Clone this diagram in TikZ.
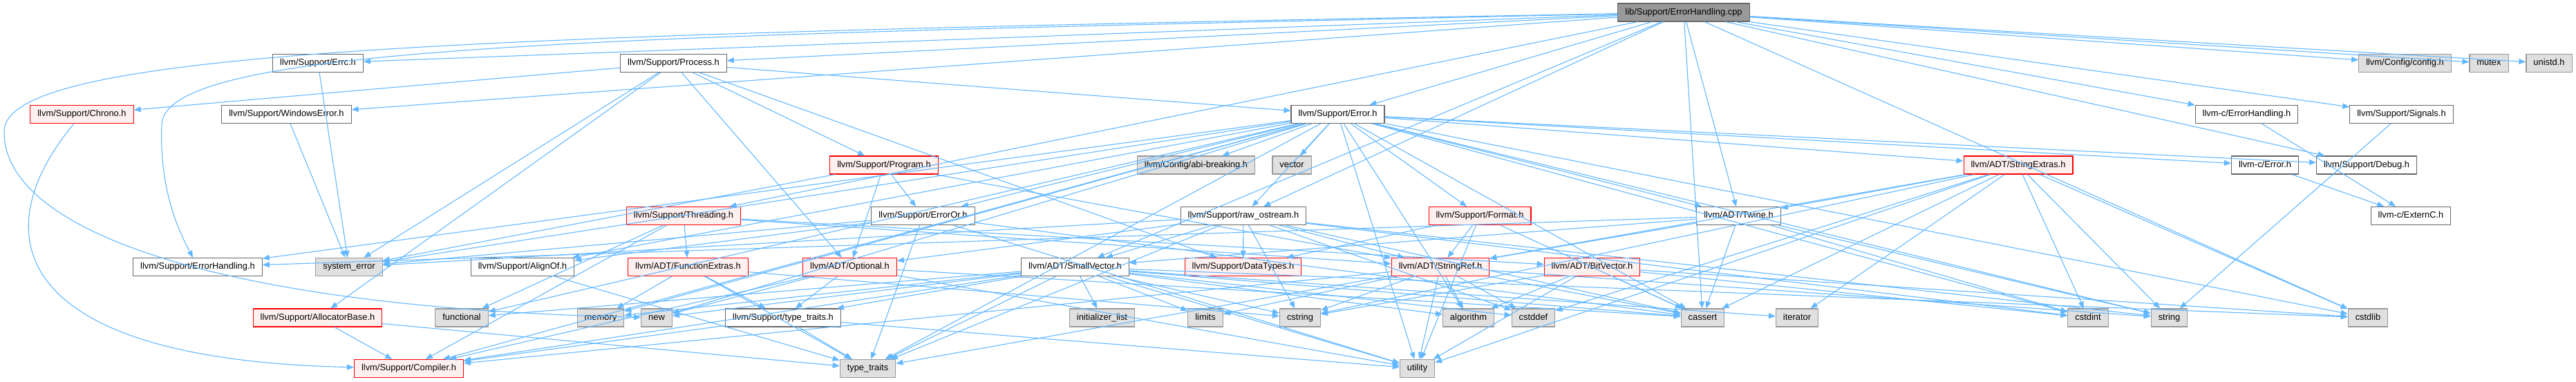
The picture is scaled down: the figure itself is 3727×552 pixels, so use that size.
\documentclass[tikz,border=0pt]{standalone}
\usepackage{fontspec}
\setmainfont{Liberation Sans}
\usetikzlibrary{arrows.meta}

\definecolor{edgeblue}{HTML}{63B8FF}
\definecolor{redline}{HTML}{FF0000}
\definecolor{redfill}{HTML}{FFF0F0}
\definecolor{sysfill}{HTML}{E0E0E0}
\definecolor{sysline}{HTML}{999999}
\definecolor{fileline}{HTML}{666666}

\begin{document}
\begin{tikzpicture}[x=1pt, y=-1pt, line join=round, >={Triangle[length=10pt,width=8pt]},
  file/.style={draw=fileline, fill=white, line width=1.1pt, minimum height=26pt,
    inner xsep=10.5pt, inner ysep=0pt, text height=9.3pt, text depth=2.6pt,
    font=\fontsize{12.9}{15}\selectfont},
  redfile/.style={file, draw=redline, fill=redfill},
  sysfile/.style={file, draw=sysline, fill=sysfill},
  rootfile/.style={file, fill=sysline},
  edge/.style={->, draw=edgeblue, line width=1.1pt}]
  \useasboundingbox (0,0) rectangle (3727,552);

  % row 0
  \node[rootfile] (root) at (2436,18) {lib/Support/ErrorHandling.cpp};
  % row 1
  \node[file] (errc) at (460,91.5) {llvm/Support/Errc.h};
  \node[file] (process) at (974.5,91.5) {llvm/Support/Process.h};
  \node[sysfile] (config) at (3479.5,91.5) {llvm/Config/config.h};
  \node[sysfile] (mutex) at (3601,91.5) {mutex};
  \node[sysfile] (unistd) at (3688,91.5) {unistd.h};
  % row 2
  \node[redfile] (chrono) at (118.5,165.5) {llvm/Support/Chrono.h};
  \node[file] (winerr) at (414.5,165.5) {llvm/Support/WindowsError.h};
  \node[file] (error) at (1935.5,165.5) {llvm/Support/Error.h};
  \node[file] (cerrh) at (3250.5,165.5) {llvm-c/ErrorHandling.h};
  \node[file] (signals) at (3474.5,165.5) {llvm/Support/Signals.h};
  % row 3
  \node[redfile] (program) at (1279,239) {llvm/Support/Program.h};
  \node[sysfile] (abi) at (1730.5,239) {llvm/Config/abi-breaking.h};
  \node[sysfile] (vector) at (1869,239) {vector};
  \node[redfile] (strext) at (2920,239) {llvm/ADT/StringExtras.h};
  \node[file] (cerror) at (3277,239) {llvm-c/Error.h};
  \node[file] (debug) at (3424,239) {llvm/Support/Debug.h};
  % row 4
  \node[redfile] (threading) at (989,312.5) {llvm/Support/Threading.h};
  \node[file] (erroror) at (1335.5,312.5) {llvm/Support/ErrorOr.h};
  \node[file] (rawos) at (1799,312.5) {llvm/Support/raw\_ostream.h};
  \node[redfile] (format) at (2141,312.5) {llvm/Support/Format.h};
  \node[file] (twine) at (2515.5,312.5) {llvm/ADT/Twine.h};
  \node[file] (externc) at (3488,312.5) {llvm-c/ExternC.h};
  % row 5
  \node[file] (errh) at (286,386.5) {llvm/Support/ErrorHandling.h};
  \node[sysfile] (syserr) at (505,386.5) {system\_error};
  \node[file] (alignof) at (756,386.5) {llvm/Support/AlignOf.h};
  \node[redfile] (funcext) at (995.5,386.5) {llvm/ADT/FunctionExtras.h};
  \node[redfile] (optional) at (1229.5,386.5) {llvm/ADT/Optional.h};
  \node[file] (smallvec) at (1555.5,386.5) {llvm/ADT/SmallVector.h};
  \node[redfile] (datatypes) at (1798.5,386.5) {llvm/Support/DataTypes.h};
  \node[redfile] (strref) at (2084,386.5) {llvm/ADT/StringRef.h};
  \node[redfile] (bitvec) at (2303.5,386.5) {llvm/ADT/BitVector.h};
  % row 6
  \node[redfile] (allocbase) at (459.5,460) {llvm/Support/AllocatorBase.h};
  \node[sysfile] (functional) at (668,460) {functional};
  \node[sysfile] (memory) at (869,460) {memory};
  \node[sysfile] (new) at (950,460) {new};
  \node[file] (typetraitsh) at (1133,460) {llvm/Support/type\_traits.h};
  \node[sysfile] (initlist) at (1594.5,460) {initializer\_list};
  \node[sysfile] (limits) at (1744,460) {limits};
  \node[sysfile] (cstring) at (1881,460) {cstring};
  \node[sysfile] (algorithm) at (2124.5,460) {algorithm};
  \node[sysfile] (cstddef) at (2218.5,460) {cstddef};
  \node[sysfile] (cassert) at (2463.5,460) {cassert};
  \node[sysfile] (iterator) at (2600,460) {iterator};
  \node[sysfile] (cstdint) at (3021,460) {cstdint};
  \node[sysfile] (string) at (3138.5,460) {string};
  \node[sysfile] (cstdlib) at (3426,460) {cstdlib};
  % row 7
  \node[redfile] (compiler) at (591.5,533.5) {llvm/Support/Compiler.h};
  \node[sysfile] (typetraits) at (1255.5,533.5) {type\_traits};
  \node[sysfile] (utility) at (2050.5,533.5) {utility};

  % includes
  \foreach \t in {cerrh,smallvec,twine,config,debug,errc,error,process,signals,
      threading,winerr,rawos,cassert,cstdlib,mutex,unistd}
    \draw[edge] (root) -- (\t);
  \draw[edge] (root) .. controls (900,52) and (240,62) .. (234,180)
    .. controls (230,280) and (262,340) .. (errh);
  \draw[edge] (root) .. controls (700,50) and (8,70) .. (6,190)
    .. controls (4,330) and (300,445) .. (new);
  \draw[edge] (errc) -- (syserr);
  \draw[edge] (winerr) -- (syserr);
  \draw[edge] (chrono) .. controls (-20,330) and (0,520) .. (compiler);
  \foreach \t in {chrono,allocbase,syserr,optional,program,datatypes,error}
    \draw[edge] (process) -- (\t);
  \foreach \t in {cerror,strext,twine,abi,alignof,compiler,debug,errh,erroror,format,
      rawos,algorithm,cassert,cstdint,cstdlib,functional,memory,new,string,syserr,
      typetraits,utility,vector}
    \draw[edge] (error) -- (\t);
  \draw[edge] (cerrh) -- (externc);
  \draw[edge] (cerror) -- (externc);
  \draw[edge] (signals) -- (string);
  \foreach \t in {erroror,optional,strref,syserr}
    \draw[edge] (program) -- (\t);
  \foreach \t in {funcext,bitvec,strref,compiler,functional}
    \draw[edge] (threading) -- (\t);
  \foreach \t in {memory,typetraitsh,typetraits,cstring}
    \draw[edge] (funcext) -- (\t);
  \foreach \t in {new,typetraitsh,compiler,cassert,utility}
    \draw[edge] (optional) -- (\t);
  \foreach \t in {typetraits,compiler,utility}
    \draw[edge] (typetraitsh) -- (\t);
  \draw[edge] (alignof) -- (typetraits);
  \foreach \t in {alignof,typetraits,syserr,cassert,utility}
    \draw[edge] (erroror) -- (\t);
  \foreach \t in {compiler,typetraitsh,algorithm,cassert,cstddef,cstdlib,cstring,
      functional,initlist,iterator,limits,memory,new,typetraits,utility}
    \draw[edge] (smallvec) -- (\t);
  \foreach \t in {optional,smallvec,strref,datatypes,cassert,cstddef,cstdint,cstring,
      string,syserr,typetraits}
    \draw[edge] (rawos) -- (\t);
  \foreach \t in {datatypes,strref,cassert,utility}
    \draw[edge] (format) -- (\t);
  \foreach \t in {compiler,algorithm,cassert,cstddef,cstring,limits,string,typetraits,utility}
    \draw[edge] (strref) -- (\t);
  \foreach \t in {algorithm,cassert,cstdint,cstdlib,cstring,utility}
    \draw[edge] (bitvec) -- (\t);
  \foreach \t in {smallvec,strref,errh,cassert,cstdint,string}
    \draw[edge] (twine) -- (\t);
  \foreach \t in {twine,strref,cassert,cstddef,cstdint,cstdlib,cstring,iterator,string,utility}
    \draw[edge] (strext) -- (\t);
  \foreach \t in {compiler,typetraits}
    \draw[edge] (allocbase) -- (\t);
\end{tikzpicture}
\end{document}
